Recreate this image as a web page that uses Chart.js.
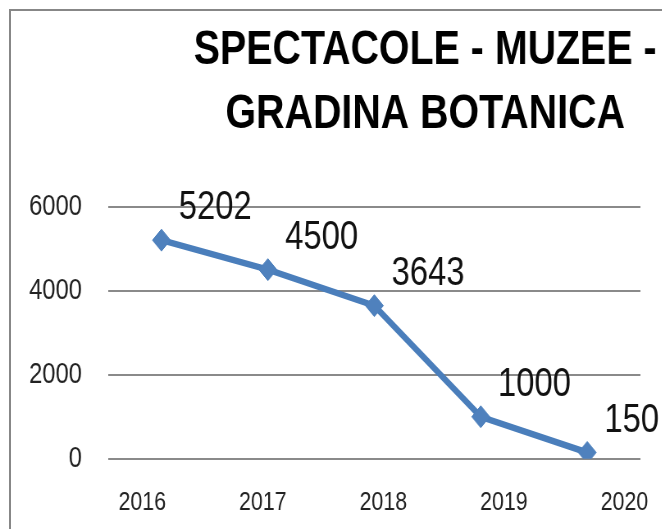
<!DOCTYPE html>
<html>
<head>
<meta charset="utf-8">
<script src="https://cdn.jsdelivr.net/npm/chart.js@4/dist/chart.umd.min.js"></script>
<style>
  html, body { margin: 0; padding: 0; width: 662px; height: 529px; overflow: hidden; background: #fff; }
  #wrap { position: absolute; left: 0; top: 0; width: 662px; height: 529px; overflow: hidden; }
  #c { position: absolute; left: 0; top: 0; transform: scaleX(0.82); transform-origin: 0 0; }
  #frame { position: absolute; left: 9px; top: 9px; width: 700px; height: 600px;
           border-left: 2px solid #878787; border-top: 2px solid #878787; pointer-events: none; }
</style>
</head>
<body>
<div id="wrap">
  <canvas id="c" width="1037" height="560"></canvas>
  <div id="frame"></div>
</div>
<script>
const years = ['2016', '2017', '2018', '2019', '2020'];
const yearTicks = [2016, 2017, 2018, 2019, 2020];
const visitors = [5202, 4500, 3643, 1000, 150];
const titleLines = ['SPECTACOLE - MUZEE -', 'GRADINA BOTANICA'];
const yTicks = [0, 2000, 4000, 6000];

const FONT = '"Liberation Sans", Arial, sans-serif';

const valueLabels = {
  id: 'valueLabels',
  afterDatasetsDraw(chart) {
    const ctx = chart.ctx;
    const meta = chart.getDatasetMeta(0);
    ctx.save();
    ctx.font = '40px ' + FONT;
    ctx.fillStyle = '#111';
    ctx.textAlign = 'left';
    ctx.textBaseline = 'middle';
    meta.data.forEach((pt, i) => {
      ctx.fillText(String(chart.data.datasets[0].data[i]), pt.x + 21, pt.y - 32);
    });
    ctx.restore();
  }
};

new Chart(document.getElementById('c'), {
  type: 'line',
  data: {
    labels: years,
    datasets: [{
      label: 'Serie1',
      data: visitors,
      borderColor: '#4A7EBB',
      borderWidth: 6.5,
      pointStyle: 'rectRot',
      pointRadius: 11,
      pointBackgroundColor: '#4F81BD',
      pointBorderColor: '#4F81BD',
      pointBorderWidth: 1,
      tension: 0,
      fill: false
    }]
  },
  options: {
    responsive: false,
    animation: false,
    devicePixelRatio: 1,
    layout: { padding: { left: 0, right: 0, top: 0, bottom: 14 } },
    plugins: {
      legend: { display: false },
      tooltip: { enabled: false },
      title: {
        display: true,
        text: titleLines,
        color: '#000',
        font: { family: FONT, weight: 'bold', size: 48, lineHeight: 1.35 },
        padding: { top: 18, bottom: 59 }
      }
    },
    scales: {
      x: {
        type: 'category',
        offset: true,
        display: false
      },
      xl: {
        type: 'linear',
        position: 'bottom',
        min: 2015.718,
        max: 2020.133,
        afterBuildTicks: (axis) => { axis.ticks = yearTicks.map(v => ({ value: v })); },
        grid: { display: false, drawTicks: false },
        border: { display: false },
        ticks: {
          autoSkip: false,
          maxRotation: 0,
          padding: 28,
          color: '#222',
          font: { family: FONT, size: 26 },
          callback: (v) => String(v)
        }
      },
      y: {
        position: 'left',
        min: 0,
        max: 6000,
        afterBuildTicks: (axis) => { axis.ticks = yTicks.map(v => ({ value: v })); },
        afterFit: (axis) => { axis.width = 132; },
        grid: { color: '#8a8a8a', lineWidth: 2, drawTicks: false },
        border: { display: false },
        ticks: {
          padding: 32,
          color: '#222',
          font: { family: FONT, size: 29 },
          callback: (v) => String(v)
        }
      },
      yR: {
        position: 'right',
        display: true,
        min: 0,
        max: 1,
        afterFit: (axis) => { axis.width = 256; },
        grid: { display: false },
        border: { display: false },
        ticks: { display: false }
      }
    }
  },
  plugins: [valueLabels]
});
</script>
</body>
</html>
